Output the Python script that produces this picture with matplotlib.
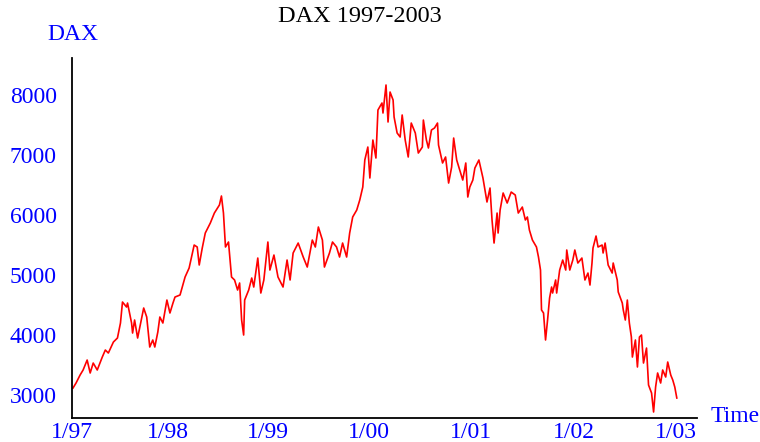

import matplotlib
matplotlib.use("Agg")
from matplotlib import pyplot as plt

# time in years since 1/97
t_years = [0.01, 0.04, 0.08, 0.11, 0.15, 0.18, 0.21, 0.25, 0.30, 0.33, 0.36, 0.41, 0.45, 0.48,
           0.50, 0.54, 0.55, 0.59, 0.60, 0.62, 0.65, 0.69, 0.71, 0.74, 0.77, 0.80, 0.82, 0.85,
           0.87, 0.90, 0.94, 0.97, 1.00, 1.02, 1.07, 1.12, 1.16, 1.21, 1.24, 1.26, 1.29, 1.32,
           1.37, 1.41, 1.46, 1.48, 1.50, 1.52, 1.55, 1.58, 1.61, 1.64, 1.66, 1.68, 1.70, 1.71,
           1.75, 1.78, 1.80, 1.84, 1.87, 1.90, 1.94, 1.96, 2.00, 2.04, 2.09, 2.13, 2.16, 2.19,
           2.24, 2.29, 2.33, 2.38, 2.41, 2.44, 2.48, 2.50, 2.55, 2.58, 2.62, 2.65, 2.68, 2.72,
           2.75, 2.78, 2.82, 2.85, 2.88, 2.90, 2.93, 2.95, 2.98, 3.01, 3.03, 3.07, 3.08, 3.11,
           3.13, 3.15, 3.18, 3.19, 3.22, 3.25, 3.27, 3.30, 3.33, 3.36, 3.40, 3.43, 3.47, 3.48,
           3.51, 3.53, 3.56, 3.59, 3.62, 3.63, 3.67, 3.70, 3.73, 3.76, 3.78, 3.81, 3.84, 3.87,
           3.90, 3.92, 3.94, 3.97, 3.99, 4.03, 4.07, 4.11, 4.14, 4.16, 4.18, 4.21, 4.22, 4.24,
           4.27, 4.31, 4.35, 4.39, 4.42, 4.46, 4.49, 4.51, 4.53, 4.56, 4.60, 4.62, 4.64, 4.65,
           4.67, 4.69, 4.71, 4.73, 4.75, 4.76, 4.79, 4.80, 4.83, 4.86, 4.89, 4.90, 4.93, 4.96,
           4.98, 5.01, 5.05, 5.08, 5.11, 5.13, 5.15, 5.16, 5.19, 5.21, 5.25, 5.26, 5.28, 5.31,
           5.35, 5.36, 5.40, 5.41, 5.45, 5.46, 5.48, 5.50, 5.52, 5.54, 5.55, 5.58, 5.60, 5.62,
           5.64, 5.66, 5.69, 5.71, 5.74, 5.76, 5.78, 5.80, 5.83, 5.85, 5.88, 5.90, 5.93, 5.95,
           5.97, 5.99]

dax = [3117, 3200, 3333, 3417, 3583, 3367, 3533, 3417, 3633, 3750, 3700, 3883, 3950, 4200,
       4550, 4467, 4533, 4200, 4033, 4250, 3950, 4283, 4450, 4300, 3800, 3917, 3800, 4050,
       4300, 4200, 4583, 4367, 4533, 4633, 4667, 4967, 5117, 5500, 5467, 5167, 5450, 5700,
       5867, 6033, 6167, 6317, 6033, 5467, 5550, 4967, 4917, 4750, 4867, 4250, 4000, 4583,
       4750, 4950, 4800, 5283, 4700, 4917, 5550, 5083, 5333, 4967, 4800, 5250, 4917, 5367,
       5533, 5300, 5133, 5583, 5467, 5800, 5583, 5133, 5367, 5550, 5467, 5300, 5533, 5300,
       5700, 5967, 6083, 6250, 6467, 6917, 7133, 6617, 7250, 6950, 7750, 7867, 7700, 8167,
       7550, 8050, 7917, 7633, 7367, 7300, 7667, 7250, 6967, 7533, 7367, 7033, 7133, 7583,
       7250, 7117, 7417, 7450, 7533, 7167, 6867, 6967, 6533, 6800, 7283, 6917, 6750, 6583,
       6867, 6300, 6467, 6583, 6783, 6917, 6617, 6217, 6450, 5917, 5533, 6033, 5700, 6083,
       6367, 6200, 6383, 6333, 6033, 6133, 5917, 5967, 5750, 5583, 5467, 5300, 5083, 4417,
       4367, 3917, 4250, 4617, 4800, 4700, 4917, 4700, 5083, 5250, 5083, 5417, 5083, 5250,
       5417, 5200, 5283, 4917, 5033, 4833, 5200, 5450, 5650, 5467, 5500, 5367, 5533, 5167,
       5033, 5200, 4917, 4717, 4533, 4417, 4250, 4583, 4200, 3967, 3633, 3917, 3467, 3967,
       4000, 3533, 3783, 3167, 3033, 2717, 3133, 3367, 3200, 3417, 3300, 3550, 3333, 3250,
       3133, 2950]

# tick positions as they sit in the picture (years since 1/97)
tick_pos = [0, 0.95, 1.94, 2.94, 3.95, 4.97, 5.98]
tick_labels = ["1/97", "1/98", "1/99", "1/00", "1/01", "1/02", "1/03"]
y_ticks = [3000, 4000, 5000, 6000, 7000, 8000]

plt.rcParams['font.family'] = ['Liberation Serif', 'DejaVu Serif']

fig = plt.figure(figsize=(7.6, 4.42), dpi=100)
ax = fig.add_axes([72/760, 24/442, 625/760, 360/442])
ax.plot(t_years, dax, color='red', linewidth=1.2)

ax.set_xlim(0, 6.19)
ax.set_ylim(2617, 8617)
ax.set_xticks(tick_pos)
ax.set_xticklabels(tick_labels)
ax.set_yticks(y_ticks)
ax.tick_params(length=0, labelsize=17, labelcolor='blue')
ax.tick_params(axis='y', pad=11)
ax.tick_params(axis='x', pad=3)
for side in ['top', 'right']:
    ax.spines[side].set_visible(False)
for side in ['left', 'bottom']:
    ax.spines[side].set_linewidth(1.3)

fig.text(360/760, 1 - 17/442, "DAX 1997-2003", ha='center', va='center', fontsize=17.5, color='black')
fig.text(73/760, 1 - 34/442, "DAX", ha='center', va='center', fontsize=17, color='blue')
fig.text(735/760, 1 - 416/442, "Time", ha='center', va='center', fontsize=17, color='blue')

fig.savefig("out.png", dpi=100)
